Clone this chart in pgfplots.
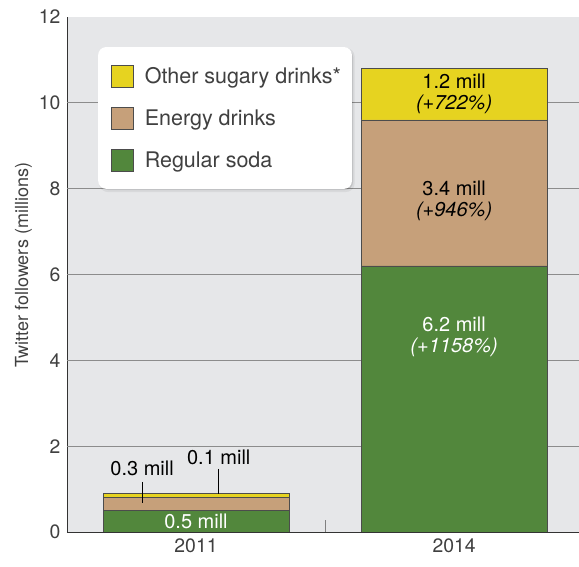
\documentclass[border=0pt]{standalone}
\usepackage{pgfplots}
\pgfplotsset{compat=1.18}
\usepackage{fontspec}
\setmainfont{TeX Gyre Heros}
\definecolor{bg}{HTML}{E6E7E9}
\definecolor{cother}{HTML}{E6D320}
\definecolor{cenergy}{HTML}{C6A07A}
\definecolor{csoda}{HTML}{52873C}
\definecolor{txt}{HTML}{404040}
\begin{document}
\begin{tikzpicture}
\begin{axis}[name=ax, scale only axis, width=512pt, height=515pt,
  xmin=-0.5, xmax=1.484, ymin=0, ymax=12,
  ybar stacked, bar width=186pt,
  axis background/.style={fill=bg},
  axis x line*=bottom, axis y line*=left,
  axis line style={line width=0.8pt, black!80},
  xtick={0,1}, xticklabels={2011,2014},
  extra x ticks={0.5}, extra x tick labels={},
  extra x tick style={major tick length=12pt, tick align=inside},
  ytick={0,2,...,12},
  extra y ticks={2,4,6,8,10}, extra y tick labels={},
  extra y tick style={grid=major},
  grid style={line width=0.8pt, gray!90},
  major tick length=0pt,
  /pgf/number format/assume math mode=true,
  ticklabel style={font=\fontsize{19.4}{19.4}\selectfont, text=txt},
  yticklabel style={xshift=-3pt},
  xticklabel style={yshift=-3pt},
  ylabel={Twitter followers (millions)},
  ylabel style={font=\fontsize{18}{18}\selectfont, text=txt, at={(ticklabel cs:0.518)}},
  legend cell align=left, reverse legend,
  legend style={at={(rel axis cs:0.0605,0.942)}, anchor=north west, draw=none, fill=white,
    rounded corners=8pt,
    font=\fontsize{21.5}{21.5}\selectfont, text=txt,
    inner xsep=9pt, inner ysep=17.5pt, row sep=19.5pt},
  legend image code/.code={\path (0pt,0pt) (35pt,0pt);\fill[#1, sharp corners] (4pt,-11pt) rectangle (26pt,11pt);},
  every axis plot/.append style={draw=black!70, line width=0.6pt},
]
\fill[black, opacity=0.06, rounded corners=9pt] (rel axis cs:0.0625,0.660) rectangle (rel axis cs:0.562,0.940);
\fill[black, opacity=0.10, rounded corners=8pt] (rel axis cs:0.0645,0.664) rectangle (rel axis cs:0.5586,0.938);
\addplot[fill=csoda] coordinates {(0,0.5) (1,6.2)};
\addplot[fill=cenergy] coordinates {(0,0.3) (1,3.4)};
\addplot[fill=cother] coordinates {(0,0.1) (1,1.2)};
\legend{Regular soda, Energy drinks, Other sugary drinks*}
\coordinate (t1) at (axis cs:1,10.2);
\coordinate (t2) at (axis cs:1,7.71);
\coordinate (t3) at (axis cs:1,4.54);
\coordinate (t4) at (axis cs:0,0.256);
\coordinate (t5) at (axis cs:-0.209,1.49);
\coordinate (t6) at (axis cs:0.088,1.75);
\coordinate (l1a) at (axis cs:-0.209,1.17);
\coordinate (l1b) at (axis cs:-0.209,0.68);
\coordinate (l2a) at (axis cs:0.088,1.47);
\coordinate (l2b) at (axis cs:0.088,0.88);
\end{axis}
\begin{scope}[every node/.style={font=\fontsize{20}{21}\selectfont, align=center}]
\node at (t1) {1.2 mill\\\textit{(+722\%)}};
\node at (t2) {3.4 mill\\\textit{(+946\%)}};
\node[text=white] at (t3) {6.2 mill\\\textit{(+1158\%)}};
\node[text=white] at (t4) {0.5 mill};
\node at (t5) {0.3 mill};
\node at (t6) {0.1 mill};
\draw[line width=0.8pt] (l1a) -- (l1b);
\draw[line width=0.8pt] (l2a) -- (l2b);
\end{scope}
\pgfresetboundingbox
\useasboundingbox ([xshift=-67pt,yshift=-35pt]ax.south west) rectangle ([yshift=17pt]ax.north east);
\end{tikzpicture}
\end{document}
